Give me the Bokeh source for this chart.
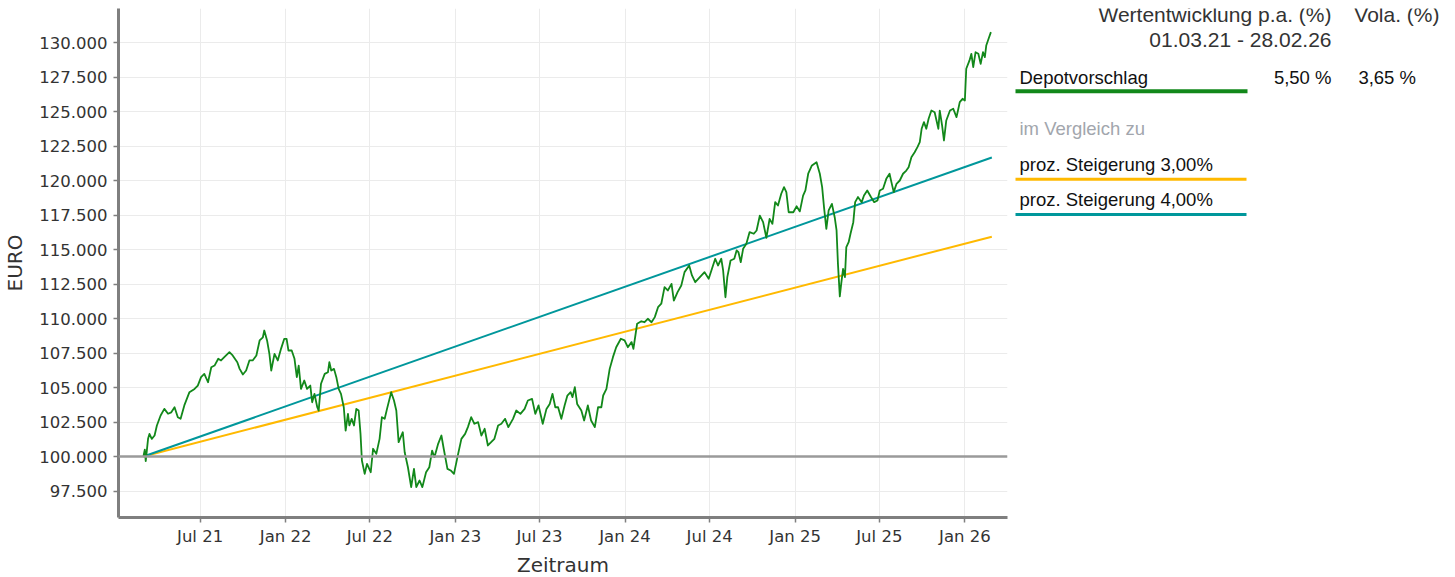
import pandas as pd
from bokeh.plotting import figure
from bokeh.models import Range1d, FixedTicker, DatetimeTickFormatter, Span
from bokeh.layouts import row
from bokeh.core.properties import value
from bokeh.embed import file_html
from bokeh.resources import INLINE

# ---------------- data ----------------
dates = [
    "2021-03-01", "2021-03-04", "2021-03-06", "2021-03-11", "2021-03-14", "2021-03-19", "2021-03-25", "2021-03-30",
    "2021-04-07", "2021-04-15", "2021-04-23", "2021-04-30", "2021-05-07", "2021-05-14", "2021-05-20", "2021-05-28",
    "2021-06-08", "2021-06-19", "2021-06-26", "2021-07-03", "2021-07-10", "2021-07-18", "2021-07-25", "2021-08-01",
    "2021-08-09", "2021-08-15", "2021-08-22", "2021-09-02", "2021-09-09", "2021-09-19", "2021-09-24", "2021-10-01",
    "2021-10-08", "2021-10-15", "2021-10-22", "2021-10-30", "2021-11-06", "2021-11-13", "2021-11-16", "2021-11-22",
    "2021-11-27", "2021-12-01", "2021-12-08", "2021-12-15", "2021-12-22", "2021-12-29", "2022-01-03", "2022-01-07",
    "2022-01-14", "2022-01-20", "2022-01-25", "2022-01-29", "2022-02-03", "2022-02-10", "2022-02-16", "2022-02-23",
    "2022-02-27", "2022-03-04", "2022-03-10", "2022-03-13", "2022-03-18", "2022-03-26", "2022-04-02", "2022-04-05",
    "2022-04-09", "2022-04-15", "2022-04-20", "2022-04-25", "2022-04-30", "2022-05-06", "2022-05-10", "2022-05-15",
    "2022-05-18", "2022-05-23", "2022-05-28", "2022-06-02", "2022-06-07", "2022-06-11", "2022-06-14", "2022-06-20",
    "2022-06-25", "2022-07-03", "2022-07-08", "2022-07-15", "2022-07-22", "2022-07-27", "2022-08-02", "2022-08-07",
    "2022-08-16", "2022-08-22", "2022-08-27", "2022-09-01", "2022-09-10", "2022-09-14", "2022-09-21", "2022-09-28",
    "2022-10-04", "2022-10-09", "2022-10-16", "2022-10-22", "2022-10-30", "2022-11-06", "2022-11-12", "2022-11-17",
    "2022-11-25", "2022-12-02", "2022-12-07", "2022-12-15", "2022-12-22", "2022-12-29", "2023-01-07", "2023-01-14",
    "2023-01-22", "2023-01-28", "2023-02-04", "2023-02-11", "2023-02-19", "2023-02-26", "2023-03-05", "2023-03-12",
    "2023-03-19", "2023-03-26", "2023-04-03", "2023-04-10", "2023-04-18", "2023-04-25", "2023-05-05", "2023-05-12",
    "2023-05-21", "2023-05-30", "2023-06-06", "2023-06-15", "2023-06-22", "2023-06-29", "2023-07-08", "2023-07-16",
    "2023-07-23", "2023-07-29", "2023-08-04", "2023-08-10", "2023-08-17", "2023-08-24", "2023-08-30", "2023-09-06",
    "2023-09-10", "2023-09-15", "2023-09-20", "2023-09-29", "2023-10-05", "2023-10-13", "2023-10-20", "2023-10-28",
    "2023-11-04", "2023-11-11", "2023-11-15", "2023-11-22", "2023-11-29", "2023-12-06", "2023-12-13", "2023-12-23",
    "2023-12-31", "2024-01-07", "2024-01-15", "2024-01-19", "2024-01-27", "2024-02-05", "2024-02-12", "2024-02-19",
    "2024-02-27", "2024-03-05", "2024-03-12", "2024-03-19", "2024-03-26", "2024-04-02", "2024-04-10", "2024-04-15",
    "2024-04-23", "2024-05-01", "2024-05-08", "2024-05-18", "2024-05-24", "2024-05-31", "2024-06-10", "2024-06-20",
    "2024-06-29", "2024-07-06", "2024-07-13", "2024-07-19", "2024-07-26", "2024-07-30", "2024-08-04", "2024-08-08",
    "2024-08-15", "2024-08-23", "2024-08-28", "2024-09-01", "2024-09-06", "2024-09-11", "2024-09-18", "2024-09-25",
    "2024-10-04", "2024-10-10", "2024-10-17", "2024-10-24", "2024-10-31", "2024-11-07", "2024-11-13", "2024-11-19",
    "2024-11-25", "2024-12-02", "2024-12-08", "2024-12-13", "2024-12-18", "2024-12-28", "2025-01-04", "2025-01-11",
    "2025-01-18", "2025-01-23", "2025-01-29", "2025-02-06", "2025-02-16", "2025-02-23", "2025-02-28", "2025-03-04",
    "2025-03-09", "2025-03-14", "2025-03-21", "2025-03-27", "2025-03-31", "2025-04-03", "2025-04-07", "2025-04-10",
    "2025-04-14", "2025-04-18", "2025-04-21", "2025-04-26", "2025-04-30", "2025-05-06", "2025-05-10", "2025-05-16",
    "2025-05-24", "2025-05-29", "2025-06-05", "2025-06-13", "2025-06-20", "2025-06-27", "2025-07-02", "2025-07-09",
    "2025-07-16", "2025-07-23", "2025-07-27", "2025-08-01", "2025-08-07", "2025-08-14", "2025-08-21", "2025-08-28",
    "2025-09-02", "2025-09-08", "2025-09-15", "2025-09-21", "2025-09-26", "2025-09-30", "2025-10-05", "2025-10-10",
    "2025-10-15", "2025-10-21", "2025-10-28", "2025-11-05", "2025-11-08", "2025-11-13", "2025-11-17", "2025-11-22",
    "2025-11-30", "2025-12-07", "2025-12-14", "2025-12-18", "2025-12-21", "2025-12-27", "2026-01-01", "2026-01-04",
    "2026-01-11", "2026-01-15", "2026-01-19", "2026-01-24", "2026-01-30", "2026-02-04", "2026-02-09", "2026-02-13",
    "2026-02-16", "2026-02-21", "2026-02-26",
]
depot = [
    100000, 100500, 99660, 101280, 101640, 101280, 101520, 102250,
    102970, 103450, 103100, 103200, 103570, 102850, 102730, 103700,
    104660, 104900, 105140, 105750, 105990, 105380, 106470, 106590,
    107080, 106960, 107200, 107560, 107320, 106830, 106350, 105940,
    106230, 106960, 106960, 107320, 108410, 108640, 109130, 108410,
    107440, 106230, 107440, 106960, 107800, 108530, 108530, 107680,
    107680, 107080, 105750, 106590, 104900, 105510, 104900, 105140,
    103930, 104540, 103570, 103330, 105270, 105990, 106110, 106830,
    106230, 106350, 105750, 104900, 104540, 103570, 101880, 103090,
    102250, 102730, 102250, 103450, 103330, 101640, 99710, 98740,
    99470, 98860, 100560, 100190, 101280, 102850, 102730, 103450,
    104660, 104060, 103330, 101040, 101760, 100310, 99220, 97780,
    99100, 97780, 98260, 97780, 98860, 99220, 100430, 99950,
    100920, 101520, 100560, 99100, 98990, 98740, 100190, 101280,
    101640, 102130, 102850, 102370, 102490, 101520, 102010, 100800,
    101040, 101280, 102250, 102370, 102730, 102130, 102730, 103330,
    103090, 103450, 104060, 104180, 103090, 103700, 102370, 103450,
    103810, 104540, 103570, 103570, 102730, 103700, 104420, 104660,
    104300, 105020, 103810, 103330, 102610, 103700, 102610, 102130,
    103570, 103570, 104420, 104900, 106350, 107200, 107920, 108530,
    108410, 107920, 108290, 107800, 109620, 109800, 109730, 109980,
    109730, 110100, 110820, 111070, 112270, 112030, 112510, 111300,
    111910, 112390, 113360, 113840, 113120, 112630, 113000, 113360,
    112880, 113600, 114330, 113840, 114330, 113480, 111540, 113000,
    114200, 114330, 114930, 114800, 114080, 115050, 115410, 116260,
    116140, 116380, 117460, 116980, 115850, 117220, 116860, 118430,
    118190, 119040, 119520, 119160, 117700, 117700, 118130, 117760,
    118900, 119280, 120490, 121090, 121330, 120490, 119520, 118070,
    116500, 117830, 118310, 117340, 116380, 113960, 111600, 112510,
    113600, 113000, 115170, 115530, 116140, 116980, 118430, 118800,
    118430, 118910, 119280, 118800, 118430, 118550, 119280, 119400,
    120120, 120490, 119880, 119160, 119760, 120000, 120490, 120720,
    120960, 121690, 122050, 122420, 122780, 123750, 124230, 123750,
    124470, 125070, 124950, 123750, 125070, 123990, 122900, 124350,
    125070, 125200, 124590, 125200, 125680, 125920, 125800, 128100,
    128700, 129180, 128210, 129300, 129180, 128450, 129300, 128940,
    129780, 130270, 130750,
]

ref_dates = ["2021-03-01", "2026-02-28"]
steigerung_3 = [100000, 115930]
steigerung_4 = [100000, 121670]
baseline_value = 100000

y_ticks = [97500, 100000, 102500, 105000, 107500, 110000, 112500, 115000,
           117500, 120000, 122500, 125000, 127500, 130000]
y_tick_labels = ["97.500", "100.000", "102.500", "105.000", "107.500", "110.000", "112.500",
                 "115.000", "117.500", "120.000", "122.500", "125.000", "127.500", "130.000"]
x_tick_dates = ["2021-07-01", "2022-01-01", "2022-07-01", "2023-01-01", "2023-07-01",
                "2024-01-01", "2024-07-01", "2025-01-01", "2025-07-01", "2026-01-01"]
x_tick_labels = ["Jul 21", "Jan 22", "Jul 22", "Jan 23", "Jul 23",
                 "Jan 24", "Jul 24", "Jan 25", "Jul 25", "Jan 26"]

x_view = ["2021-01-06 10:00", "2026-04-02 17:00"]
y_view = [95580, 132464]

header_perf = ["Wertentwicklung p.a. (%)", "01.03.21 - 28.02.26"]
header_vola = "Vola. (%)"
main_name = "Depotvorschlag"
main_perf = "5,50 %"
main_vola = "3,65 %"
compare_title = "im Vergleich zu"
compare_names = ["proz. Steigerung 3,00%", "proz. Steigerung 4,00%"]

GREEN = "#12881a"
ORANGE = "#ffb900"
TEAL = "#00979b"
AXIS_GREY = "#7f7f7f"
TEXT = "#333333"

# layout (page pixels)
FRAME_LEFT, FRAME_TOP, FRAME_W, FRAME_H = 117, 8, 889, 509
LEG_W = 439


def to_ms(ds):
    return [int(v) // 10**6 for v in pd.to_datetime(ds).astype("int64")]


# ---------------- main chart ----------------
xr = to_ms(x_view)
p = figure(
    x_axis_type="datetime",
    frame_width=FRAME_W, frame_height=FRAME_H,
    x_range=Range1d(xr[0], xr[1]), y_range=Range1d(y_view[0], y_view[1]),
    min_border_left=FRAME_LEFT, min_border_right=2, min_border_top=FRAME_TOP, min_border_bottom=0,
    output_backend="svg", toolbar_location=None,
    background_fill_color="white", border_fill_color="white",
)
p.outline_line_color = None

tick_ms = to_ms(x_tick_dates)
xt = FixedTicker(ticks=tick_ms)
p.xaxis.ticker = xt
p.xgrid.ticker = xt
p.xaxis.formatter = DatetimeTickFormatter(
    days="%b %y", months="%b %y", years="%b %y", hours="%b %y", minutes="%b %y")
p.xaxis.major_label_overrides = {t: lab for t, lab in zip(tick_ms, x_tick_labels)}

yt = FixedTicker(ticks=y_ticks)
p.yaxis.ticker = yt
p.ygrid.ticker = yt
p.yaxis.major_label_overrides = {t: lab for t, lab in zip(y_ticks, y_tick_labels)}

for ax in (p.xaxis[0], p.yaxis[0]):
    ax.axis_line_color = AXIS_GREY
    ax.axis_line_width = 3
    ax.major_tick_line_color = AXIS_GREY
    ax.major_tick_line_width = 1.5
    ax.major_tick_in = 0
    ax.major_tick_out = 5
    ax.minor_tick_line_color = None
    ax.major_label_text_font = "DejaVu Sans"
    ax.major_label_text_font_size = "16.5px"
    ax.major_label_text_color = TEXT
    ax.axis_label_text_font = "DejaVu Sans"
    ax.axis_label_text_font_style = "normal"
    ax.axis_label_text_color = TEXT
    ax.axis_label_text_font_size = "20px"

p.yaxis.axis_label = "EURO"
p.yaxis.major_label_standoff = 6
p.yaxis.axis_label_standoff = 9

p.xaxis.axis_label = "Zeitraum"
p.xaxis.major_label_standoff = 4
p.xaxis.axis_label_standoff = 4

p.xgrid.grid_line_color = "#ebebeb"
p.ygrid.grid_line_color = "#ebebeb"
p.xgrid.grid_line_width = 1
p.ygrid.grid_line_width = 1

p.add_layout(Span(location=baseline_value, dimension="width", line_color="#9a9a9a", line_width=2.5))

ref_ms = to_ms(ref_dates)
p.line(ref_ms, steigerung_3, line_color=ORANGE, line_width=2)
p.line(ref_ms, steigerung_4, line_color=TEAL, line_width=2)
p.line(to_ms(dates), depot, line_color=GREEN, line_width=1.8, line_join="round")

# ---------------- legend panel (frame aligned with the chart frame) ----------------
leg_x0 = FRAME_LEFT + FRAME_W + 2
q = figure(
    frame_width=LEG_W, frame_height=FRAME_H,
    x_range=Range1d(leg_x0, leg_x0 + LEG_W),
    y_range=Range1d(FRAME_TOP + FRAME_H, FRAME_TOP),
    min_border_left=0, min_border_right=0, min_border_top=FRAME_TOP, min_border_bottom=0,
    output_backend="svg", toolbar_location=None, title=None,
    x_axis_location=None, y_axis_location=None,
    background_fill_color="white", border_fill_color="white",
)
q.outline_line_color = None
q.xgrid.visible = False
q.ygrid.visible = False

font = value("Liberation Sans")
# y values are the vertical centres of the capital letters
q.text(x=[1330, 1438], y=[14.4, 14.4], text=[header_perf[0], header_vola],
       text_font=font, text_font_size="21px", text_align="right",
       text_baseline="middle", text_color=TEXT)
q.text(x=[1330], y=[39.4], text=[header_perf[1]],
       text_font=font, text_font_size="21px", text_align="right",
       text_baseline="middle", text_color=TEXT)

q.text(x=[1018], y=[76.9], text=[main_name], text_font=font, text_font_size="18.5px",
       text_align="left", text_baseline="middle", text_color="#111111")
q.text(x=[1330, 1414.5], y=[76.9, 76.9], text=[main_perf, main_vola], text_font=font,
       text_font_size="18.5px", text_align="right", text_baseline="middle", text_color="#111111")
q.segment(x0=[1014], y0=[90.8], x1=[1246], y1=[90.8], line_color=GREEN, line_width=4)

q.text(x=[1018], y=[127.9], text=[compare_title], text_font=font, text_font_size="18.5px",
       text_align="left", text_baseline="middle", text_color="#a2a6ad")

q.text(x=[1018, 1018], y=[164.3, 199.3], text=compare_names, text_font=font,
       text_font_size="18.5px", text_align="left", text_baseline="middle", text_color="#111111")
q.segment(x0=[1014, 1014], y0=[178.7, 214], x1=[1245, 1245], y1=[178.7, 214],
          line_color=[ORANGE, TEAL], line_width=3)

layout = row(p, q, spacing=0)
open("out.html", "w").write(file_html(layout, INLINE))
